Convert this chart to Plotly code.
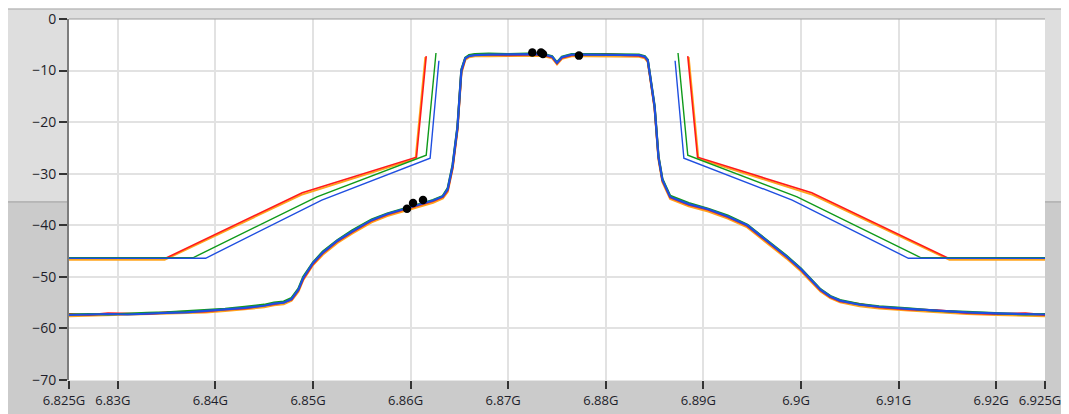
import plotly.graph_objects as go

# ---- measured spectrum (GHz, dBm) ----
freq = [6.825, 6.827, 6.829, 6.831, 6.833, 6.835, 6.837, 6.839, 6.841, 6.843,
        6.845, 6.846, 6.847, 6.8478, 6.8485, 6.849, 6.850, 6.851, 6.8525, 6.854,
        6.856, 6.8576, 6.8596, 6.861, 6.8623, 6.8633, 6.8638, 6.8643, 6.8648, 6.8652,
        6.8656, 6.866, 6.8666, 6.868, 6.870, 6.872, 6.8735, 6.8745, 6.875, 6.8755,
        6.8765, 6.878, 6.880, 6.882, 6.8834, 6.8840, 6.8843, 6.8845, 6.8850, 6.8854,
        6.8858, 6.8866, 6.8885, 6.8905, 6.8925, 6.8945, 6.8965, 6.8985, 6.9000, 6.9011,
        6.902, 6.903, 6.904, 6.906, 6.908, 6.911, 6.914, 6.917, 6.920, 6.923, 6.925]

blue_vals = [-57.4, -57.3, -57.2, -57.3, -57.1, -57.0, -56.9, -56.6, -56.4, -56.0,
             -55.6, -55.2, -55.0, -54.3, -52.5, -50.2, -47.3, -45.3, -43.0, -41.2,
             -39.0, -37.8, -36.7, -35.9, -35.2, -34.4, -33.0, -28.5, -21.0, -10.0,
             -7.6, -7.2, -7.0, -6.9, -6.9, -6.8, -6.8, -7.3, -8.5, -7.4,
             -6.9, -6.9, -6.9, -6.9, -7.0, -7.3, -8.0, -10.5, -17.0, -26.8,
             -31.2, -34.5, -35.9, -36.9, -38.3, -40.0, -43.0, -46.0, -48.5, -50.8,
             -52.5, -53.8, -54.6, -55.4, -55.8, -56.2, -56.6, -56.9, -57.1, -57.2, -57.3]

red_vals = [-57.2, -57.4, -57.1, -57.2, -57.2, -56.9, -56.8, -56.7, -56.3, -56.1,
            -55.5, -55.3, -54.9, -54.4, -52.6, -50.4, -47.5, -45.4, -43.1, -41.3,
            -39.1, -37.9, -36.8, -36.0, -35.3, -34.5, -33.2, -28.8, -21.3, -10.2,
            -7.7, -7.1, -6.9, -6.9, -7.0, -6.9, -6.9, -7.4, -8.6, -7.5,
            -7.0, -6.9, -6.8, -7.0, -7.1, -7.4, -8.1, -10.7, -17.2, -26.9,
            -31.3, -34.6, -36.0, -37.0, -38.4, -40.1, -43.1, -46.1, -48.6, -50.9,
            -52.6, -53.9, -54.7, -55.3, -55.9, -56.3, -56.5, -57.0, -57.2, -57.1, -57.4]

green_vals = [-57.3, -57.2, -57.3, -57.1, -57.0, -56.9, -56.7, -56.5, -56.2, -55.8,
              -55.4, -55.0, -54.8, -54.1, -52.3, -50.0, -47.2, -45.1, -42.9, -41.0,
              -38.9, -37.7, -36.6, -35.8, -35.1, -34.3, -32.8, -28.3, -20.8, -9.8,
              -7.5, -7.0, -6.8, -6.7, -6.8, -6.7, -6.7, -7.2, -8.4, -7.3,
              -6.8, -6.8, -6.8, -6.8, -6.9, -7.2, -7.9, -10.4, -16.8, -26.6,
              -31.0, -34.3, -35.7, -36.8, -38.1, -39.9, -42.9, -45.9, -48.4, -50.7,
              -52.4, -53.7, -54.5, -55.3, -55.7, -56.1, -56.6, -56.8, -57.0, -57.3, -57.2]

orange_vals = [-57.6, -57.5, -57.5, -57.4, -57.3, -57.2, -57.1, -56.9, -56.6, -56.3,
               -55.9, -55.5, -55.3, -54.6, -52.9, -50.6, -47.7, -45.7, -43.4, -41.6,
               -39.4, -38.2, -37.1, -36.3, -35.6, -34.8, -33.5, -29.0, -21.5, -10.5,
               -7.9, -7.4, -7.2, -7.2, -7.2, -7.1, -7.1, -7.6, -8.8, -7.7,
               -7.2, -7.2, -7.2, -7.2, -7.3, -7.6, -8.3, -10.8, -17.3, -27.2,
               -31.6, -34.9, -36.3, -37.3, -38.7, -40.4, -43.4, -46.4, -48.9, -51.1,
               -52.8, -54.1, -54.9, -55.7, -56.1, -56.5, -56.9, -57.2, -57.4, -57.5, -57.6]

# ---- spectrum masks (None splits the left and right halves) ----
red_mask_f = [6.825, 6.8350, 6.8489, 6.8606, 6.8616, None, 6.8884, 6.8894, 6.9011, 6.9150, 6.925]
red_mask_v = [-46.3, -46.3, -33.7, -26.8, -7.2, None, -7.2, -26.8, -33.7, -46.3, -46.3]
orange_mask_f = [6.825, 6.8348, 6.8488, 6.8605, 6.8615, None, 6.8885, 6.8895, 6.9012, 6.9152, 6.925]
orange_mask_v = [-46.7, -46.7, -34.1, -27.1, -7.4, None, -7.4, -27.1, -34.1, -46.7, -46.7]
green_mask_f = [6.825, 6.8377, 6.8504, 6.8616, 6.8626, None, 6.8874, 6.8884, 6.8996, 6.9123, 6.925]
green_mask_v = [-46.3, -46.3, -34.5, -26.4, -6.6, None, -6.6, -26.4, -34.5, -46.3, -46.3]
blue_mask_f = [6.825, 6.8390, 6.8509, 6.8620, 6.8629, None, 6.8871, 6.8880, 6.8991, 6.9110, 6.925]
blue_mask_v = [-46.4, -46.4, -35.1, -27.0, -8.1, None, -8.1, -27.0, -35.1, -46.4, -46.4]

# ---- markers ----
marker_f = [6.85963, 6.86025, 6.86127, 6.87247, 6.87336, 6.87356, 6.87725]
marker_v = [-36.8, -35.7, -35.1, -6.5, -6.5, -6.8, -7.1]

# ---- axis ticks ----
x_tickvals = [6.825, 6.83, 6.84, 6.85, 6.86, 6.87, 6.88, 6.89, 6.9, 6.91, 6.92, 6.925]
x_ticktext = ["6.825G", "6.83G", "6.84G", "6.85G", "6.86G", "6.87G", "6.88G",
              "6.89G", "6.9G", "6.91G", "6.92G", "6.925G"]
y_tickvals = [0, -10, -20, -30, -40, -50, -60, -70]

RED = "#ff1a1a"
ORANGE = "#ffa41c"
GREEN = "#0f9a1a"
BLUE = "#1f4fe0"

fig = go.Figure()

for fx, fy, c, w in [(orange_mask_f, orange_mask_v, ORANGE, 1.8),
                     (red_mask_f, red_mask_v, RED, 1.6),
                     (green_mask_f, green_mask_v, GREEN, 1.4),
                     (blue_mask_f, blue_mask_v, BLUE, 1.4)]:
    fig.add_trace(go.Scatter(x=fx, y=fy, mode="lines", line=dict(color=c, width=w),
                             connectgaps=False, hoverinfo="skip", showlegend=False))

for vals, c in [(orange_vals, ORANGE), (red_vals, RED), (green_vals, GREEN), (blue_vals, BLUE)]:
    fig.add_trace(go.Scatter(x=freq, y=vals, mode="lines", line=dict(color=c, width=2.2),
                             hoverinfo="skip", showlegend=False))

fig.add_trace(go.Scatter(x=marker_f, y=marker_v, mode="markers",
                         marker=dict(color="black", size=8.5), showlegend=False))

# page offset: the html body adds 8px around the figure
def px_x(p):
    return (p - 69) / 976.0

def px_y(p):
    return (380 - p) / 361.0

shapes = [
    dict(type="rect", xref="paper", yref="paper", x0=px_x(5), x1=px_x(1090), y0=px_y(9), y1=px_y(202),
         fillcolor="#dedede", line=dict(color="#a8a8a8", width=1), layer="below"),
    dict(type="rect", xref="paper", yref="paper", x0=px_x(5), x1=px_x(1090), y0=px_y(440), y1=px_y(202),
         fillcolor="#cbcbcb", line=dict(color="#a8a8a8", width=1), layer="below"),
    dict(type="rect", xref="paper", yref="paper", x0=0, x1=1, y0=0, y1=1,
         fillcolor="white", line=dict(width=0), layer="below"),
    dict(type="line", xref="paper", yref="paper", x0=0, x1=1, y0=1, y1=1,
         line=dict(color="#9a9a9a", width=1), layer="above"),
]

font = dict(family="Open Sans, Noto Sans, sans-serif", size=13, color="#1e1e2a")

fig.update_layout(
    width=1061, height=406,
    margin=dict(l=61, r=24, t=11, b=34, autoexpand=False),
    paper_bgcolor="#f2f2f2",
    plot_bgcolor="white",
    shapes=shapes,
    showlegend=False,
    font=font,
    xaxis=dict(range=[6.825, 6.925], tickvals=x_tickvals, ticktext=x_ticktext,
               showgrid=True, gridcolor="#e2e2e2", gridwidth=2, zeroline=False,
               ticks="outside", ticklen=8, tickcolor="#333333", tickwidth=1.5,
               showline=True, linecolor="#e6e6e6", linewidth=1, tickfont=font,
               automargin=False, ticklabeloverflow="allow", tickangle=0,
               ticklabelshift=-5),
    yaxis=dict(range=[-70, 0], tickvals=y_tickvals, showgrid=True, gridcolor="#e2e2e2",
               gridwidth=2, zeroline=False, ticks="outside", ticklen=8, tickcolor="#333333",
               tickwidth=1.5, showline=True, linecolor="#7d7d7d", linewidth=2,
               tickfont=dict(family="Open Sans, Noto Sans, sans-serif", size=14, color="#1e1e2a"),
               automargin=False),
)

fig.write_html("out.html")
